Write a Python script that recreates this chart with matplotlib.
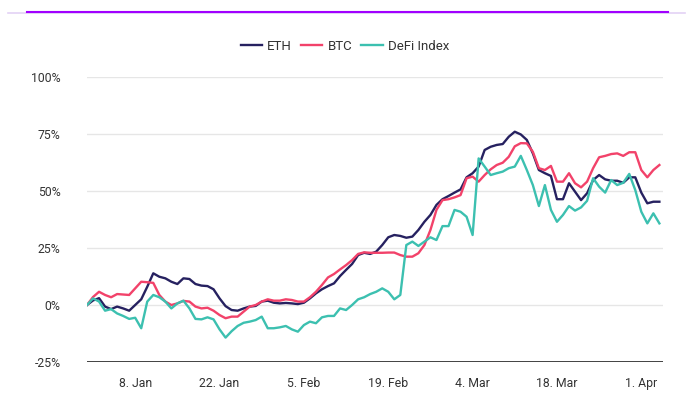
import matplotlib
matplotlib.use("Agg")
import matplotlib.pyplot as plt
import matplotlib.dates as mdates
from matplotlib.lines import Line2D
import numpy as np
import pandas as pd

start_date = "2023-12-31"
eth = [0, 2, 3, -0.7, -1.8, -0.7, -1.5, -2.5, 0, 2.5, 8, 13.9, 12.4, 11.7, 10.2, 9.2,
       11.7, 11.4, 9.2, 8.5, 8.3, 6.9, 2.9, -0.5, -2.2, -2.5, -1.5, -0.7, -0.4, 1.5, 1.9, 1.0,
       0.7, 0.9, 0.7, 0.4, 1.0, 2.9, 5.1, 6.9, 8.3, 9.5, 12.7, 15.4, 18, 21.9, 22.9, 22.4,
       23.4, 26.3, 29.7, 30.7, 30.3, 29.5, 30.0, 32.9, 36.5, 39.5, 43.9, 46.4, 47.8, 49.3, 50.7, 56,
       57.8, 60.7, 68, 69.4, 70.2, 70.6, 73.8, 76, 74.8, 72.4, 66.5, 59.2, 57.8, 56.6, 46.4, 46.4,
       53.4, 49.7, 46, 49, 54.8, 57, 55.1, 54.5, 54.5, 53.6, 56, 56, 49.3, 44.6, 45.3, 45.3]
btc = [0, 3.5, 5.8, 4.4, 3.4, 4.8, 4.6, 4.4, 7.3, 10.2, 10, 9.7, 4.4, 1.5, 0, 0.7,
       1.8, 1.5, -0.7, -1.5, -1.2, -2.5, -4.4, -5.8, -5.1, -5.1, -2.9, -0.7, 0, 1.5, 2.5, 1.9,
       1.9, 2.5, 2.2, 1.5, 1.5, 3.4, 5.8, 8.8, 12.1, 13.6, 15.6, 17.5, 19.7, 22.4, 23.1, 22.9,
       22.9, 22.9, 23, 23, 21.9, 21.2, 21.2, 22.7, 26.3, 32.9, 41.7, 46, 46.4, 47.2, 48.2, 55.6,
       56.3, 54.1, 57, 59.5, 61.4, 62.4, 65, 69.6, 71, 70.9, 67.2, 60, 59.2, 61, 54.1, 54.1,
       57.8, 53.4, 51.6, 54.1, 60, 64.8, 65.4, 66.2, 66.5, 65.4, 67, 67, 59.2, 56, 59.2, 61.4]
defi = [0, 2.9, 1.5, -2.5, -1.8, -3.7, -4.8, -6.1, -5.6, -10.2, 1.5, 4.4, 3.4, 1.5, -1.5, 0.7,
        1.9, -1.5, -6.1, -6.3, -5.4, -6.3, -10.7, -14.3, -11.5, -9.2, -7.8, -7.3, -6.6, -5.1, -10.2, -10.2,
        -9.8, -9.2, -10.7, -11.7, -8.8, -7.3, -8.0, -5.4, -4.8, -4.8, -1.5, -2.2, 0, 2.5, 3.4, 4.8,
        5.8, 7.3, 5.8, 2.5, 4.4, 26.3, 27.8, 25.9, 27.8, 29.7, 28.5, 34.6, 34.6, 41.7, 40.9, 38.7,
        30.7, 64.3, 60.7, 57, 57.8, 58.5, 60, 60.7, 65.4, 59.2, 52.6, 43.4, 52.6, 41.7, 36.5, 39.5,
        43.4, 41.4, 42.8, 45.7, 55.6, 51.9, 49.3, 54.8, 52.6, 53.6, 57.5, 50.4, 40.9, 35.8, 40.2, 35.8]
series_names = ["ETH", "BTC", "DeFi Index"]
colors = ["#262160", "#f2426a", "#3cc0b0"]
y_ticks = [-25, 0, 25, 50, 75, 100]
x_tick_dates = ["2024-01-08", "2024-01-22", "2024-02-05", "2024-02-19", "2024-03-04", "2024-03-18", "2024-04-01"]
x_tick_labels = ["8. Jan", "22. Jan", "5. Feb", "19. Feb", "4. Mar", "18. Mar", "1. Apr"]

plt.rcParams['font.family'] = ['Roboto', 'DejaVu Sans']

dates = pd.date_range(start_date, periods=len(eth), freq="D")

fig = plt.figure(figsize=(6.92, 3.97), dpi=100)
W, H = 692, 397
ax = fig.add_axes([87 / W, 1 - 362 / H, (663 - 87) / W, (362 - 77) / H])

# top decorative lines
fig.add_artist(Line2D([8 / W, 685 / W], [1 - 12.5 / H, 1 - 12.5 / H], color="#e3d2f5", lw=1.2))
fig.add_artist(Line2D([27 / W, 668 / W], [1 - 12 / H, 1 - 12 / H], color="#a100ff", lw=1.5))

for yt in y_ticks[1:]:
    ax.axhline(yt, color="#e6e6e6", lw=1.0, zorder=0)
ax.axhline(-25, color="#333333", lw=1.3, zorder=1)

for vals, name, c in zip([eth, btc, defi], series_names, colors):
    ax.plot(dates, vals, color=c, lw=1.7, label=name, solid_joinstyle="round", zorder=3)

x0 = pd.Timestamp(start_date)
ax.set_xlim(mdates.date2num(x0), mdates.date2num(x0) + 95.6)
ax.set_ylim(-25, 100)
ax.set_yticks(y_ticks)
ax.set_yticklabels([f"{v}%" for v in y_ticks])
ax.set_xticks(pd.to_datetime(x_tick_dates))
ax.set_xticklabels(x_tick_labels)
ax.tick_params(axis="both", length=0, labelsize=8.8, colors="#333333")
ax.tick_params(axis="y", pad=19)
ax.tick_params(axis="x", pad=11)
for s in ax.spines.values():
    s.set_visible(False)

fig.legend(loc="center", bbox_to_anchor=(345 / W, 1 - 46 / H), ncol=3, frameon=False,
           fontsize=9.5, handlelength=1.6, handletextpad=0.4, columnspacing=0.7,
           labelcolor="#333333")

fig.savefig("out.png", dpi=100)
